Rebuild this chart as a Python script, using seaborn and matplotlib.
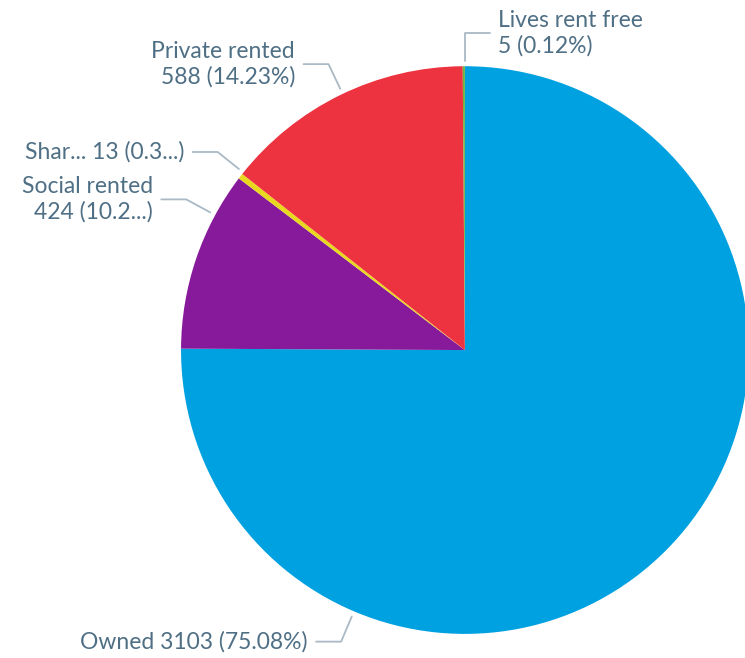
import numpy as np
import matplotlib
matplotlib.use("Agg")
import matplotlib.pyplot as plt
import seaborn as sns

# data
categories = ["Owned", "Social rented", "Shared ownership", "Private rented", "Lives rent free"]
counts = [3103, 424, 13, 588, 5]
label_texts = ["Owned 3103 (75.08%)",
               "Social rented\n424 (10.2...)",
               "Shar... 13 (0.3...)",
               "Private rented\n588 (14.23%)",
               "Lives rent free\n5 (0.12%)"]

# layout of the labels (angle of leader line in degrees, side)
label_angles = [247, 151.6, 141.3, 115.5, 90]
label_sides = ["left", "left", "left", "left", "right"]

colors = ["#00A1E0", "#871A9B", "#E9D91E", "#EE3340", "#6DB33F"]
text_color = "#4F6F85"
line_color = "#A9B9C5"

sns.set_theme(style="white")
plt.rcParams["font.family"] = ["Lato", "DejaVu Sans"]

fig = plt.figure(figsize=(7.45, 6.58), dpi=100)
ax = fig.add_axes([0.243, 0.0365, 0.762, 0.863])

ax.pie(counts, colors=sns.color_palette(colors), startangle=90, counterclock=False,
       wedgeprops=dict(linewidth=0))
ax.set_xlim(-1, 1)
ax.set_ylim(-1, 1)
ax.set_aspect("equal")
ax.axis("off")

r0, r1 = 1.02, 1.116
hlen, gap = 0.088, 0.03
for text, ang, side in zip(label_texts, label_angles, label_sides):
    a = np.deg2rad(ang)
    x0, y0 = r0 * np.cos(a), r0 * np.sin(a)
    x1, y1 = r1 * np.cos(a), r1 * np.sin(a)
    sign = -1 if side == "left" else 1
    x2 = x1 + sign * hlen
    ax.plot([x0, x1, x2], [y0, y1, y1], color=line_color, lw=1.3, clip_on=False)
    ax.text(x2 + sign * gap, y1, text, ha="right" if side == "left" else "left",
            va="center", color=text_color, fontsize=16.5, linespacing=1.22,
            multialignment="right" if side == "left" else "left")

fig.savefig("out.png", dpi=100)
